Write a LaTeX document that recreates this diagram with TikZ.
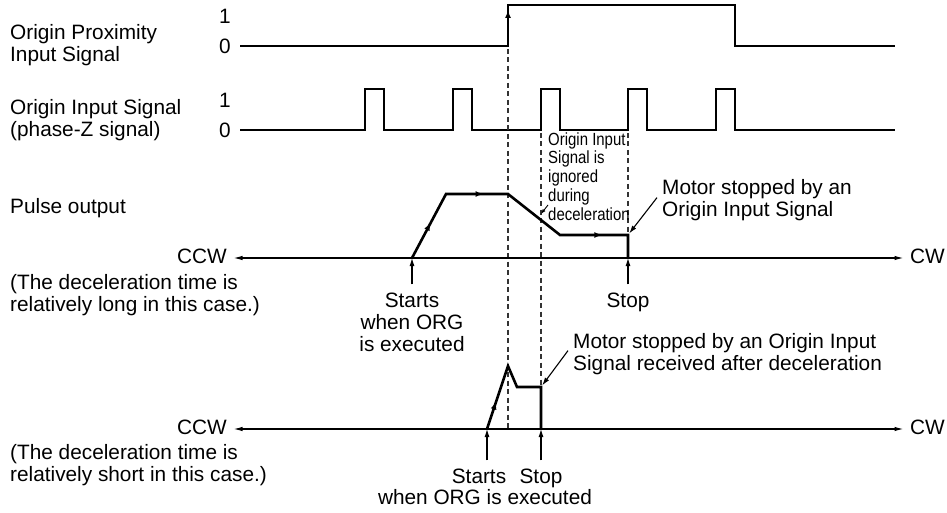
\documentclass[tikz,border=0pt]{standalone}
\usepackage{fontspec}
\setmainfont{Liberation Sans}
\newfontfamily\narrowfont[FakeStretch=0.85]{Liberation Sans}
\usetikzlibrary{arrows.meta,decorations.markings}

\tikzset{
  lbl/.style={inner sep=0pt, font=\fontsize{20.8}{22}\selectfont, align=left},
  ctrlbl/.style={lbl, align=center},
  dirlbl/.style={lbl, inner xsep=6.5pt},
  narrowlbl/.style={inner sep=0pt, font=\narrowfont\fontsize{17.6}{18.75}\selectfont, align=left},
  sig/.style={line width=2.6pt, line join=miter},
  prof/.style={line width=2.6pt, line join=miter},
  axis/.style={line width=1.2pt, {Latex[length=9pt,width=4.5pt]}-{Latex[length=9pt,width=4.5pt]}},
  guide/.style={line width=1.1pt, black!80, dash pattern=on 5pt off 3.5pt},
  lead/.style={line width=1.1pt, -{Latex[length=8pt,width=5pt]}},
  smalllead/.style={line width=0.9pt, -{Latex[length=5pt,width=3.5pt]}},
  tipmark/.style={postaction={decorate, decoration={markings,
    mark=at position #1 with {\arrow{Latex[length=8pt,width=6pt]}}}}}
}

\begin{document}
\begin{tikzpicture}[x=1pt,y=-1pt]
\useasboundingbox (0,0) rectangle (947,513);

\node[lbl, anchor=base west] (proxname) at (10,62) {Origin Proximity\\Input Signal};
\node[lbl, anchor=base] (proxhi) at (225,24) {1};
\node[lbl, anchor=base] (proxlo) at (225,53.5) {0};
\draw[sig, tipmark=304pt] (240,46) -- (508,46) -- (508,5) -- (735,5) -- (735,46) -- (895,46);

\node[lbl, anchor=base west] (orgname) at (10,137) {Origin Input Signal\\(phase-Z signal)};
\node[lbl, anchor=base] (orghi) at (225,108) {1};
\node[lbl, anchor=base] (orglo) at (225,137.5) {0};
\draw[sig] (240,130) -- (365,130) -- (365,89) -- (384,89) -- (384,130)
  -- (453,130) -- (453,89) -- (472,89) -- (472,130)
  -- (541,130) -- (541,89) -- (560,89) -- (560,130)
  -- (628,130) -- (628,89) -- (647,89) -- (647,130)
  -- (716,130) -- (716,89) -- (735,89) -- (735,130) -- (895,130);

\draw[guide] (508,49) -- (508,429);
\draw[guide] (541,133) -- (541,387);
\draw[guide] (628,133) -- (628,235);

\node[lbl, anchor=base west] (pulsename) at (10,213) {Pulse output};
\node[lbl, anchor=base west] (longcase) at (10,311) {(The deceleration time is\\relatively long in this case.)};
\node[dirlbl, anchor=base east] (ccw1) at (233.5,263) {CCW};
\node[dirlbl, anchor=base west] (cw1) at (903.5,263) {CW};

\coordinate (st1) at (412,258);
\coordinate (sp1) at (628,235);
\coordinate (en1) at (628,258);
\draw[axis] (ccw1.east |- st1) -- (cw1.west |- st1);
\draw[prof, tipmark=40pt, tipmark=110pt, tipmark=243pt] (st1) -- (446,194) -- (508,194) -- (560,235) -- (sp1) -- (en1);

\node[narrowlbl, anchor=base west] (ignored) at (548,220) {Origin Input\\Signal is\\ignored\\during\\deceleration};
\coordinate (ignA) at (548,205);
\coordinate (ignB) at (541,214);
\draw[smalllead] (ignA) -- (ignB);

\node[lbl, anchor=base west] (stopnote1) at (662,216) {Motor stopped by an\\Origin Input Signal};
\draw[lead, shorten >=2pt] ([xshift=-5pt,yshift=2pt]stopnote1.west) -- (sp1);

\node[ctrlbl, anchor=base] (starts1) at (412,351) {Starts\\when ORG\\is executed};
\node[ctrlbl, anchor=base] (stop1) at (628,307) {Stop};
\draw[lead, shorten <=8pt] (starts1.north) -- (st1);
\draw[lead, shorten <=8pt] (stop1.north) -- (en1);

\node[lbl, anchor=base west] (shortcase) at (10,481) {(The deceleration time is\\relatively short in this case.)};
\node[dirlbl, anchor=base east] (ccw2) at (233.5,434) {CCW};
\node[dirlbl, anchor=base west] (cw2) at (903.5,434) {CW};

\coordinate (st2) at (487,429);
\coordinate (sp2) at (541,387);
\coordinate (en2) at (541,429);
\draw[axis] (ccw2.east |- st2) -- (cw2.west |- st2);
\draw[prof, tipmark=29pt] (st2) -- (508,366) -- (517,387) -- (sp2) -- (en2);

\node[lbl, anchor=base west] (stopnote2) at (573,370) {Motor stopped by an Origin Input\\Signal received after deceleration};
\draw[lead, shorten >=2pt] ([xshift=-5pt,yshift=3pt]stopnote2.west) -- (sp2);

\node[ctrlbl, anchor=base] (starts2) at (479,483) {Starts};
\node[ctrlbl, anchor=base] (stop2) at (541,483) {Stop};
\node[ctrlbl, anchor=base] (when2) at (485,504) {when ORG is executed};
\draw[lead, shorten <=8pt] (st2 |- starts2.north) -- (st2);
\draw[lead, shorten <=8pt] (stop2.north) -- (en2);
\end{tikzpicture}
\end{document}
